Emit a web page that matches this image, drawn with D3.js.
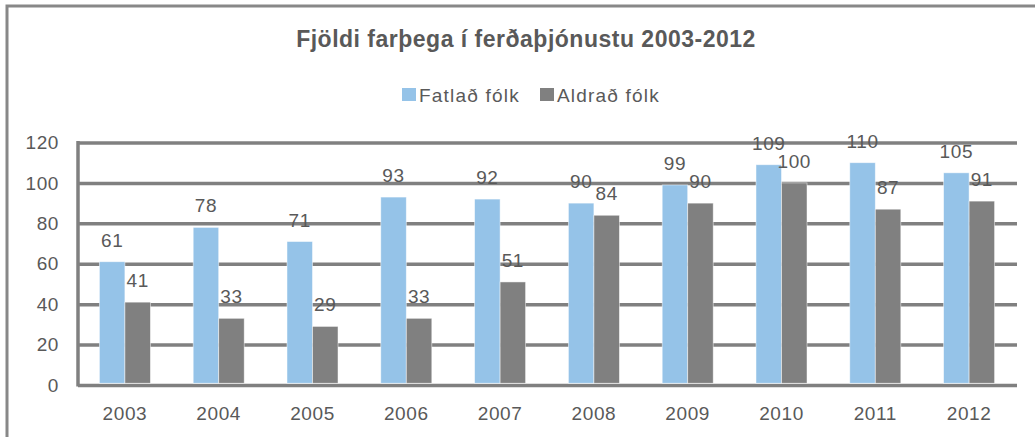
<!DOCTYPE html>
<html>
<head>
<meta charset="utf-8">
<script src="https://cdn.jsdelivr.net/npm/d3@7"></script>
<style>
    body { margin: 0; background: #fff; }
    svg { display: block; font-family: 'Liberation Sans', Arial, sans-serif; }
    .grid path { display: none; }
    .axis text, .label { fill: #595959; font-size: 19px; letter-spacing: 0.6px; }
    .legend text { letter-spacing: 1.2px; }
    .title { fill: #595959; font-size: 23px; font-weight: bold; letter-spacing: 0.5px; }
</style>
</head>
<body>
<svg width="1035" height="437"></svg>
<script>
const years = ['2003', '2004', '2005', '2006', '2007', '2008', '2009', '2010', '2011', '2012'];
const fatlad = [61, 78, 71, 93, 92, 90, 99, 109, 110, 105];
const aldrad = [41, 33, 29, 33, 51, 84, 90, 100, 87, 91];
const yTicks = [0, 20, 40, 60, 80, 100, 120];
const seriesNames = ['Fatlað fólk', 'Aldrað fólk'];
const colors = ['#95c3e8', '#808080'];

const svg = d3.select('svg');

// chart frame (cut off on right/bottom like the source)
svg.append('rect')
    .attr('x', 7)
    .attr('y', 6)
    .attr('width', 1100)
    .attr('height', 500)
    .attr('fill', 'none')
    .attr('stroke', '#888')
    .attr('stroke-width', 3)

const plotLeft = 78, plotRight = 1016, plotTop = 142.5, plotBottom = 385;

const xScale = d3.scaleBand()
    .range([plotLeft, plotRight])
    .domain(years)
    .paddingInner(0.456)
    .paddingOuter(0.228)

const xSub = d3.scaleBand()
    .range([0, xScale.bandwidth()])
    .domain([0, 1])

const yScale = d3.scaleLinear()
    .range([plotBottom, plotTop])
    .domain([0, 120]);

// horizontal grid lines
svg.append('g')
    .attr('class', 'grid')
    .attr('transform', `translate(${plotLeft}, 0)`)
    .call(d3.axisLeft(yScale)
        .tickValues(yTicks)
        .tickSize(-(plotRight - plotLeft + 1), 0, 0)
        .tickFormat('')
    )
    .selectAll('line')
    .attr('stroke', '#808080')
    .attr('stroke-width', 3.5)

// y axis line
svg.append('line')
    .attr('x1', plotLeft)
    .attr('x2', plotLeft)
    .attr('y1', yScale(120) - 1.5)
    .attr('y2', yScale(0) + 1.5)
    .attr('stroke', '#808080')
    .attr('stroke-width', 3.5)

// y tick labels
svg.append('g')
    .attr('class', 'axis')
    .selectAll('text')
    .data(yTicks)
    .enter()
    .append('text')
    .attr('x', 59)
    .attr('y', (d) => yScale(d))
    .attr('dy', '0.35em')
    .attr('text-anchor', 'end')
    .text((d) => d)

// x labels
svg.append('g')
    .attr('class', 'axis')
    .selectAll('text')
    .data(years)
    .enter()
    .append('text')
    .attr('x', (d) => xScale(d) + xScale.bandwidth() / 2)
    .attr('y', 420)
    .attr('text-anchor', 'middle')
    .text((d) => d)

const series = [fatlad, aldrad];

series.forEach((values, s) => {
    const groups = svg.append('g')
        .selectAll('g')
        .data(values)
        .enter()
        .append('g')

    groups.append('rect')
        .attr('x', (d, i) => xScale(years[i]) + xSub(s))
        .attr('y', (d) => yScale(d))
        .attr('width', xSub.bandwidth())
        .attr('height', (d) => yScale(0) - yScale(d) - 1.75)
        .attr('fill', colors[s])
        .attr('stroke', '#fff')
        .attr('stroke-opacity', 0.6)
        .attr('stroke-width', 0.8)

    groups.append('text')
        .attr('class', 'label')
        .attr('x', (d, i) => xScale(years[i]) + xSub(s) + xSub.bandwidth() / 2)
        .attr('y', (d) => yScale(d) - 15)
        .attr('text-anchor', 'middle')
        .text((d) => d)
})

// title
svg.append('text')
    .attr('class', 'title')
    .attr('x', 526)
    .attr('y', 47)
    .attr('text-anchor', 'middle')
    .text('Fjöldi farþega í ferðaþjónustu 2003-2012')

// legend
const legend = svg.append('g')
    .attr('class', 'legend')
    .selectAll('g')
    .data(seriesNames)
    .enter()
    .append('g')
    .attr('transform', (d, i) => `translate(${i === 0 ? 402 : 540}, 0)`)

legend.append('rect')
    .attr('x', 0)
    .attr('y', 88)
    .attr('width', 14)
    .attr('height', 13)
    .attr('fill', (d, i) => colors[i])

legend.append('text')
    .attr('class', 'label')
    .attr('x', 17)
    .attr('y', 102)
    .text((d) => d)
</script>
</body>
</html>
